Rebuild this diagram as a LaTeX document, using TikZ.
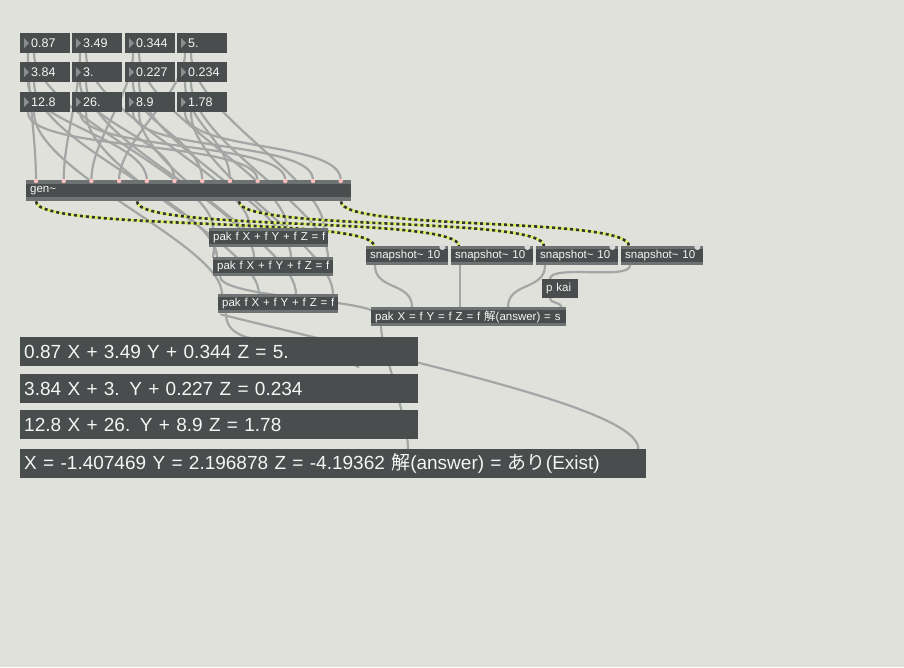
\documentclass[tikz,border=0pt]{standalone}
\usepackage{fontspec}
\setmainfont{Liberation Sans}
\newfontfamily\cjk{Noto Sans CJK JP}
\usetikzlibrary{calc}
\pgfdeclarelayer{back}\pgfdeclarelayer{cords}
\pgfsetlayers{back,cords,main}
\definecolor{bgc}{HTML}{E1E1DB}
\definecolor{boxc}{HTML}{4A4D4D}
\definecolor{barc}{HTML}{6E7272}
\definecolor{cordc}{HTML}{A4A6A6}
\definecolor{sigc}{HTML}{D8F060}
\tikzset{
 box/.style={fill=boxc,draw=none,anchor=north west,inner xsep=4pt,inner ysep=0pt,text=white!92!gray,align=left},
 num/.style={box,text width=42pt,minimum height=20pt,font=\fontsize{12.5}{13}\selectfont},
 obj/.style={box,minimum height=19pt,font=\fontsize{11.5}{13}\selectfont},
 disp/.style={box,minimum height=29pt,font=\fontsize{19}{21}\selectfont},
 cord/.style={draw=cordc,line width=2.2pt,line cap=round},
 sig/.style={draw=sigc,line width=2.6pt},
 sigd/.style={draw=black!80,line width=2.6pt,dash pattern=on 3pt off 3pt},
 inl/.style={fill=white!75!red,draw=none},
}
\begin{document}
\begin{tikzpicture}[x=1pt,y=-1pt]
\begin{pgfonlayer}{back}
\fill[bgc] (0,0) rectangle (904,667);
\end{pgfonlayer}
\useasboundingbox (0,0) rectangle (904,667);
\foreach \r/\y in {1/33,2/62,3/92}{
 \foreach \c/\x in {1/20,2/72,3/125,4/177}{
  \node[num] (n\r\c) at (\x,\y) {\phantom{.}};
  \fill[barc!80] (\x+4,\y+5) -- (\x+9,\y+10) -- (\x+4,\y+15) -- cycle;
 }}
\foreach \r/\c/\t in {1/1/0.87,1/2/3.49,1/3/0.344,1/4/5.,2/1/3.84,2/2/3.,2/3/0.227,2/4/0.234,3/1/12.8,3/2/26.,3/3/8.9,3/4/1.78}{
 \node[anchor=west,text=white!92!gray,font=\fontsize{12.5}{13}\selectfont,inner sep=0] (t\r\c) at ($(n\r\c.west)+(11,0)$) {\t};}
\node[obj,text width=317pt,minimum height=21pt] (gen) at (26,180) {gen\textasciitilde};
\fill[barc] (26,180) rectangle (351,184);\fill[barc] (26,197) rectangle (351,201);
\node[obj,text width=111pt] (p1) at (209,228) {\mbox{pak f X + f Y + f Z = f}};
\node[obj,text width=112pt] (p2) at (213,257) {\mbox{pak f X + f Y + f Z = f}};
\node[obj,text width=112pt] (p3) at (218,294) {\mbox{pak f X + f Y + f Z = f}};
\foreach \n in {p1,p2,p3}{\fill[barc] (\n.north west) rectangle ($(\n.north east)+(0,3)$);\fill[barc] (\n.south west) rectangle ($(\n.south east)+(0,-3)$);}
\foreach \i/\x in {1/366,2/451,3/536,4/621}{
 \node[obj,text width=74pt] (s\i) at (\x,246) {\mbox{snapshot\textasciitilde{} 10}};
 \fill[barc] (s\i.north west) rectangle ($(s\i.north east)+(0,3)$);\fill[barc] (s\i.south west) rectangle ($(s\i.south east)+(0,-3)$);
 \fill[white!70!gray] ($(s\i.north east)+(-6,1)$) circle (3pt);}
\node[obj,text width=28pt] (pk) at (542,279) {\mbox{p kai}};
\node[obj,text width=187pt] (bp) at (371,307) {\mbox{pak X = f Y = f Z = f {\cjk 解}(answer) = s}};
\fill[barc] (bp.north west) rectangle ($(bp.north east)+(0,3)$);\fill[barc] (bp.south west) rectangle ($(bp.south east)+(0,-3)$);
\node[disp,text width=390pt] (d1) at (20,337) {0.87 X + 3.49 Y + 0.344 Z = 5.};
\node[disp,text width=390pt] (d2) at (20,374) {3.84 X + 3. Y + 0.227 Z = 0.234};
\node[disp,text width=390pt] (d3) at (20,410) {12.8 X + 26. Y + 8.9 Z = 1.78};
\node[disp,text width=618pt] (d4) at (20,449) {\mbox{X = -1.407469 Y = 2.196878 Z = -4.19362 {\cjk 解}(answer) = {\cjk あり}(Exist)}};
\begin{pgfonlayer}{cords}
\foreach \r in {1,2,3}{\foreach \c in {1,2,3,4}{
 \pgfmathtruncatemacro\k{4*(\r-1)+\c-1}
 \pgfmathsetmacro\gx{36+\k*27.7}
 \draw[cord] ($(n\r\c.south west)+(8,0)$) .. controls +(0,40) and ($(gen.north west)+(\gx-26,-40)$) .. ($(gen.north west)+(\gx-26,0)$);
 \pgfmathsetmacro\px{4+(\c-1)*37}
 \draw[cord] ($(n\r\c.south west)+(14,0)$) .. controls +(0,60) and ($(p\r.north west)+(\px,-50)$) .. ($(p\r.north west)+(\px,0)$);
}}
\foreach \i/\x in {1/36,2/137,3/239,4/341}{
 \draw[sig] ($(gen.south west)+(\x-26,0)$) .. controls +(0,30) and ($(s\i.north west)+(8,-30)$) .. ($(s\i.north west)+(8,0)$);
 \draw[sigd] ($(gen.south west)+(\x-26,0)$) .. controls +(0,30) and ($(s\i.north west)+(8,-30)$) .. ($(s\i.north west)+(8,0)$);}
\draw[cord] ($(s1.south west)+(9,0)$) .. controls +(0,25) and ($(bp.north west)+(41,-25)$) .. ($(bp.north west)+(41,0)$);
\draw[cord] ($(s2.south west)+(9,0)$) -- ($(bp.north west)+(89,0)$);
\draw[cord] ($(s3.south west)+(9,0)$) .. controls +(0,25) and ($(bp.north west)+(137,-25)$) .. ($(bp.north west)+(137,0)$);
\draw[cord] ($(s4.south west)+(9,0)$) .. controls +(0,15) and ($(pk.north west)+(8,-15)$) .. ($(pk.north west)+(8,0)$);
\draw[cord] ($(pk.south west)+(8,0)$) .. controls +(0,5) and ($(bp.north east)+(-5,-5)$) .. ($(bp.north east)+(-5,0)$);
\draw[cord] ($(p1.south west)+(5,0)$) .. controls +(0,20) and ($(p2.north west)+(2,-20)$) .. ($(p2.north west)+(0,0)$);
\draw[cord] ($(p2.south west)+(7,0)$) .. controls +(0,20) and ($(bp.north west)+(-20,-8)$) .. ($(bp.north west)+(2,4)$);
\draw[cord] ($(p3.south west)+(8,0)$) .. controls +(0,40) and ($(d1.north east)+(-120,-5)$) .. ($(d1.north east)+(-60,30)$);
\draw[cord] ($(bp.south west)+(10,0)$) .. controls +(0,20) and ($(d4.north west)+(388,-30)$) .. ($(d4.north west)+(388,0)$);
\draw[cord] ($(bp.south west)+(-150,-12)$) .. controls +(200,50) and ($(d4.north east)+(-8,-40)$) .. ($(d4.north east)+(-8,0)$);
\end{pgfonlayer}
\foreach \k in {0,...,11}{\fill[inl] ($(gen.north west)+(10+\k*27.7,1)$) circle (2.2pt);}
\end{tikzpicture}
\end{document}
